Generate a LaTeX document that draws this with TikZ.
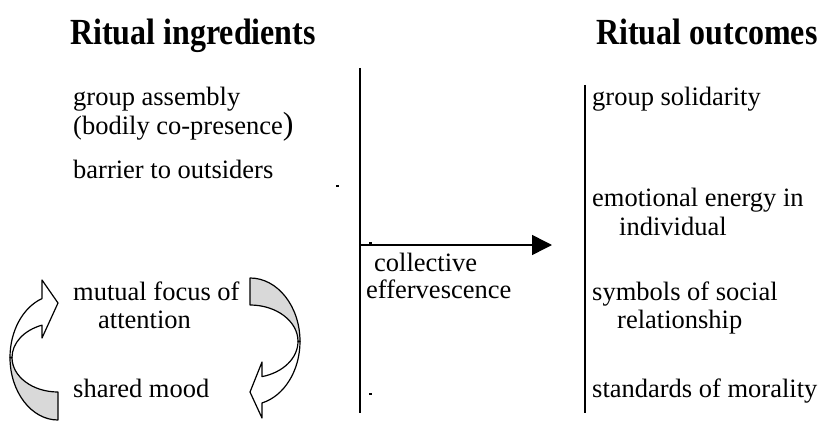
\documentclass[tikz,border=0pt]{standalone}
\usepackage{fontspec}
\setmainfont{Liberation Serif}
\usetikzlibrary{arrows.meta}
\tikzset{
    txt/.style={anchor=base west,inner sep=0pt,font=\fontsize{26.5}{30}\selectfont},
    head/.style={anchor=base west,inner sep=0pt,font=\fontsize{32}{36}\selectfont\bfseries},
    curvearrow/.style={line width=1.2pt,line join=round},
    speck/.style={fill=black}
}
\begin{document}
\begin{tikzpicture}[x=1pt,y=1pt]
        \useasboundingbox (0,0) rectangle (821,421); %枠
        \node[head] (ingtitle) at (70,376.4) {\scalebox{1}[1.15]{Ritual ingredients}};
        \node[head] (outtitle) at (596,376.4) {\scalebox{1}[1.15]{Ritual outcomes}};
        % 左の列
        \node[txt] (assembly) at (73,315) {group assembly};
        \node[txt] (copresence) at (73,286) {(bodily co-presence{\fontsize{32}{32}\selectfont )}};
        \node[txt] (barrier) at (73,243) {barrier to outsiders};
        \node[txt] (focus) at (73,121) {mutual focus of};
        \node[txt] (attention) at (98,93) {attention};
        \node[txt] (mood) at (73,24) {shared mood};
        % 中央
        \node[txt] (collective) at (374,150) {collective};
        \node[txt] (effervescence) at (366,122.5) {effervescence};
        % 右の列
        \node[txt] (solidarity) at (592,315) {group solidarity};
        \node[txt] (energy) at (592,215) {emotional energy in};
        \node[txt] (individual) at (619,186) {individual};
        \node[txt] (symbols) at (592,121) {symbols of social};
        \node[txt] (relationship) at (617,93) {relationship};
        \node[txt] (morality) at (592,24) {standards of morality};
        % 縦線と矢印
        \coordinate (midtop) at (360,353);
        \coordinate (midbot) at (360,8);
        \coordinate (righttop) at (585,336);
        \coordinate (rightbot) at (585,8);
        \coordinate (effstart) at (360,176);
        \coordinate (efftip) at (552,176);
        \draw[line width=1.6pt] (midtop)--(midbot);
        \draw[line width=1.6pt] (righttop)--(rightbot);
        \draw[-{Triangle[length=20pt,width=20pt]},line width=1.5pt] (effstart)--(efftip);
        % 点
        \fill[speck] (336,234) rectangle ++(2.5,2.5);
        \fill[speck] (369,177) rectangle ++(2.5,2.5);
        \fill[speck] (369,26) rectangle ++(2.5,2.5);
        % 左の曲がった矢印
        \draw[curvearrow,fill=gray!30] (10,63.5) arc[start angle=180,end angle=270,x radius=48,y radius=62.5]
            --(58,29) arc[start angle=270,end angle=180,x radius=46,y radius=34.5]--cycle;
        \draw[curvearrow,fill=white] (10,63.5) arc[start angle=180,end angle=109.5,x radius=48,y radius=62.5]
            --(42,141)--(58,118)--(42,83)--(42,95.85)
            arc[start angle=110.35,end angle=180,x radius=46,y radius=34.5]--cycle;
        % 右の曲がった矢印
        \draw[curvearrow,fill=gray!30] (250,143) arc[start angle=90,end angle=0,x radius=50,y radius=63.4]
            --(298,79.6) arc[start angle=0,end angle=90,x radius=48,y radius=36.4]--cycle;
        \draw[curvearrow,fill=white] (300,79.6) arc[start angle=0,end angle=-76.1,x radius=50,y radius=63.4]
            --(262,3)--(250,29)--(262,59)--(262,44.36)
            arc[start angle=-75.52,end angle=0,x radius=48,y radius=36.4]--cycle;
    \end{tikzpicture}
\end{document}
